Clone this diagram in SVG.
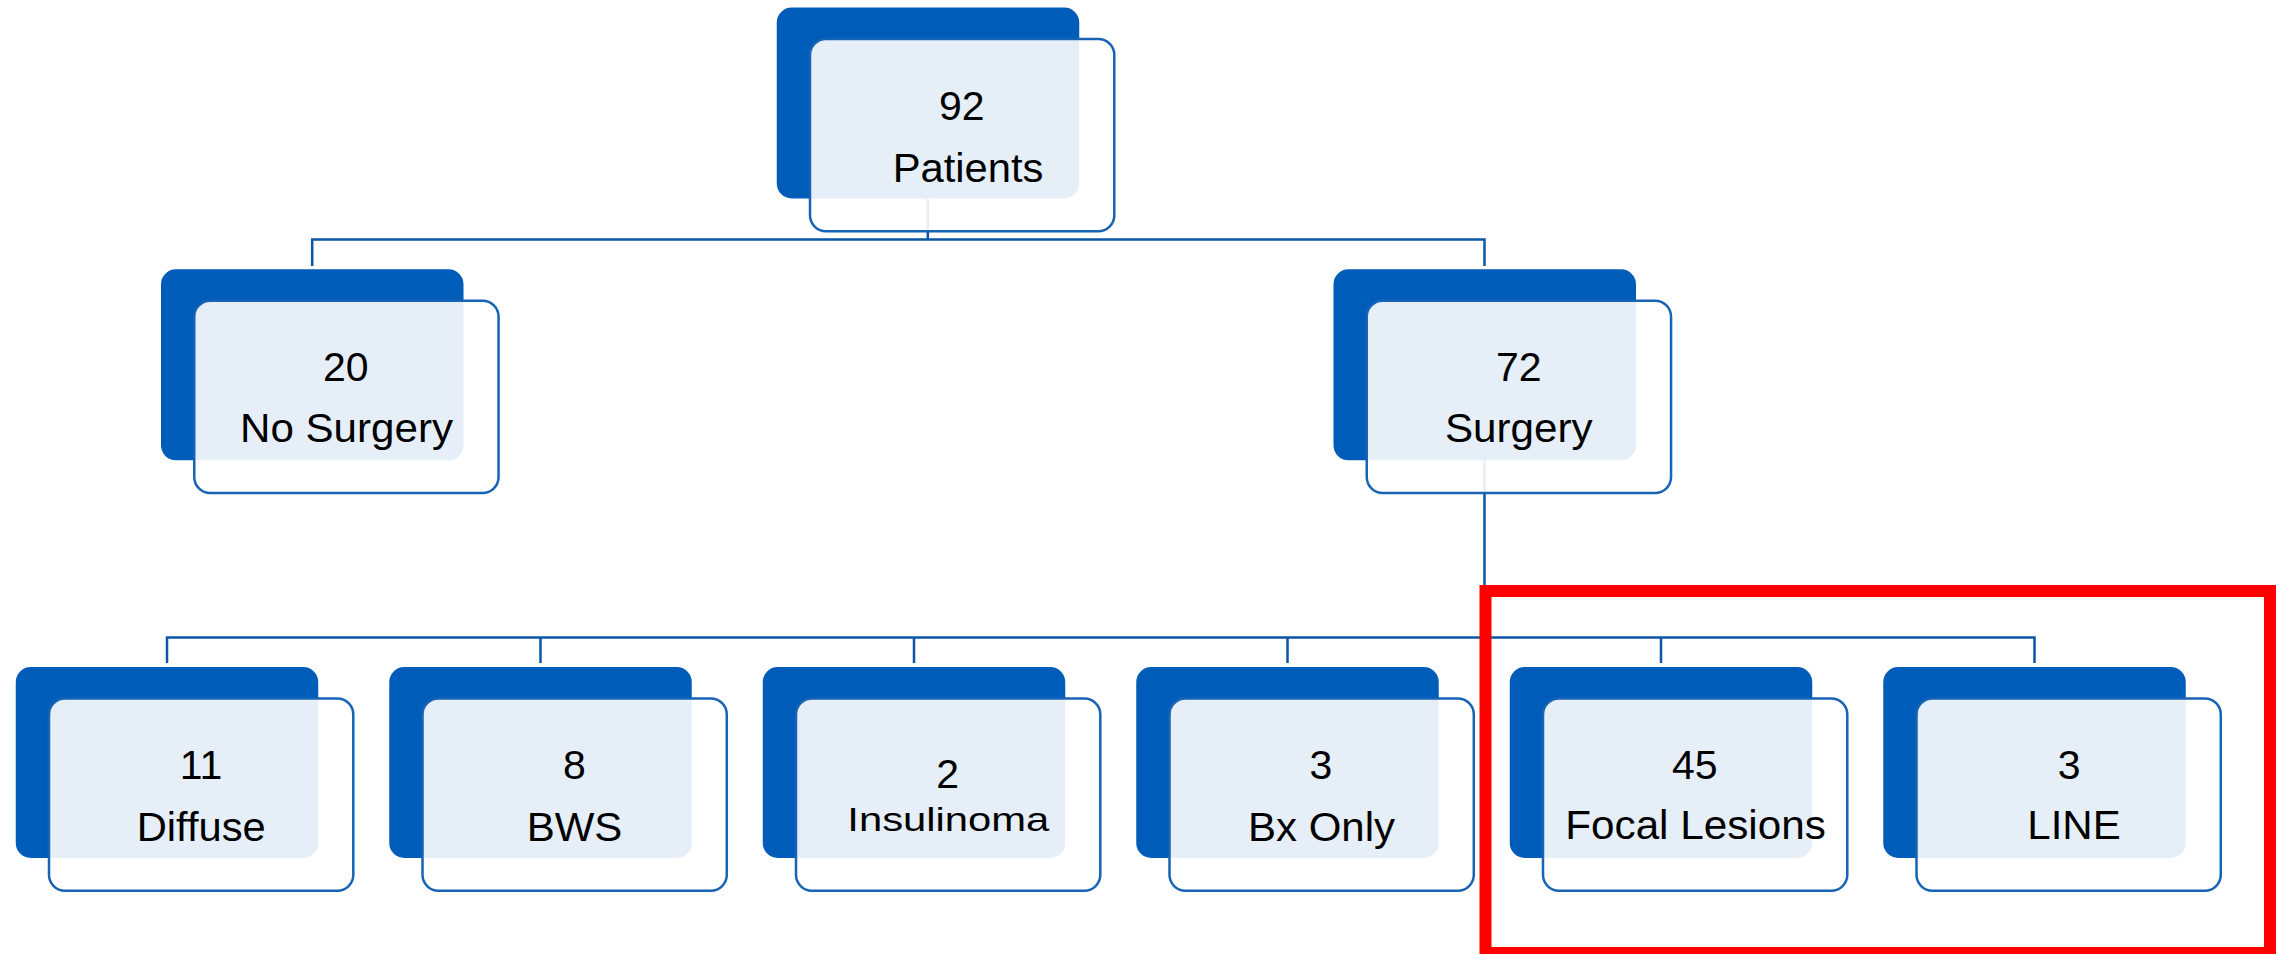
<svg xmlns="http://www.w3.org/2000/svg" width="2285" height="954" viewBox="0 0 2285 954">
<style>
.bg{fill:#005cb9}
.fr{fill:#ffffff;fill-opacity:0.9;stroke:#1763b5;stroke-width:2.5}
.cn{fill:none;stroke:#0b56a6;stroke-width:2.5}
text{font-family:"Liberation Sans",Arial,sans-serif;fill:#000;text-anchor:middle}
.n{font-size:41px}
.l{font-size:40px}
.hl{fill:none;stroke:#ff0000;stroke-width:12}
</style>
<g id="connectors">
<path class="cn" d="M927.8 199 V239.5 M312.2 266 V239.5 H1484.5 V266"/>
<path class="cn" d="M1484.5 460 V637.5 M167 663 V637.5 H2034.5 V663 M540.5 637.5 V663 M914 637.5 V663 M1287.5 637.5 V663 M1661 637.5 V663"/>
</g>
<g id="node-patients">
<rect class="bg" x="776.75" y="7.5" width="302.5" height="191" rx="15"/>
<rect class="fr" x="810" y="39" width="304.3" height="192.2" rx="16"/>
<text class="n" x="961.7" y="120">92</text>
<text class="l" x="968" y="181.7" textLength="150.7" lengthAdjust="spacingAndGlyphs">Patients</text>
</g>
<g id="node-nosurgery">
<rect class="bg" x="161" y="269.3" width="302.5" height="191" rx="15"/>
<rect class="fr" x="194.25" y="300.8" width="304.3" height="192.2" rx="16"/>
<text class="n" x="345.7" y="381">20</text>
<text class="l" x="346.5" y="441.7" textLength="213" lengthAdjust="spacingAndGlyphs">No Surgery</text>
</g>
<g id="node-surgery">
<rect class="bg" x="1333.5" y="269.3" width="302.5" height="191" rx="15"/>
<rect class="fr" x="1366.75" y="300.8" width="304.3" height="192.2" rx="16"/>
<text class="n" x="1518.7" y="381">72</text>
<text class="l" x="1518.8" y="441.7" textLength="147.7" lengthAdjust="spacingAndGlyphs">Surgery</text>
</g>
<g id="node-diffuse">
<rect class="bg" x="15.75" y="667" width="302.5" height="191" rx="15"/>
<rect class="fr" x="49" y="698.5" width="304.3" height="192.2" rx="16"/>
<text class="n" x="201" y="779.3">11</text>
<text class="l" x="201.2" y="840.7" textLength="129" lengthAdjust="spacingAndGlyphs">Diffuse</text>
</g>
<g id="node-bws">
<rect class="bg" x="389.25" y="667" width="302.5" height="191" rx="15"/>
<rect class="fr" x="422.5" y="698.5" width="304.3" height="192.2" rx="16"/>
<text class="n" x="574.5" y="779.3">8</text>
<text class="l" x="574.5" y="840.5" textLength="95.7" lengthAdjust="spacingAndGlyphs">BWS</text>
</g>
<g id="node-insulinoma">
<rect class="bg" x="762.75" y="667" width="302.5" height="191" rx="15"/>
<rect class="fr" x="796" y="698.5" width="304.3" height="192.2" rx="16"/>
<text class="n" x="947.7" y="787.7">2</text>
<text class="l" transform="translate(948.3 831) scale(1 0.82)" x="0" y="0" textLength="202" lengthAdjust="spacingAndGlyphs">Insulinoma</text>
</g>
<g id="node-bxonly">
<rect class="bg" x="1136.25" y="667" width="302.5" height="191" rx="15"/>
<rect class="fr" x="1169.5" y="698.5" width="304.3" height="192.2" rx="16"/>
<text class="n" x="1321" y="779.3">3</text>
<text class="l" x="1321.5" y="840.5" textLength="147" lengthAdjust="spacingAndGlyphs">Bx Only</text>
</g>
<g id="node-focal">
<rect class="bg" x="1509.75" y="667" width="302.5" height="191" rx="15"/>
<rect class="fr" x="1543" y="698.5" width="304.3" height="192.2" rx="16"/>
<text class="n" x="1694.7" y="778.8">45</text>
<text class="l" x="1695.5" y="839" textLength="260.5" lengthAdjust="spacingAndGlyphs">Focal Lesions</text>
</g>
<g id="node-line">
<rect class="bg" x="1883.25" y="667" width="302.5" height="191" rx="15"/>
<rect class="fr" x="1916.5" y="698.5" width="304.3" height="192.2" rx="16"/>
<text class="n" x="2069.2" y="778.8">3</text>
<text class="l" x="2074" y="839" textLength="93.4" lengthAdjust="spacingAndGlyphs">LINE</text>
</g>
<rect id="highlight" class="hl" x="1485.5" y="591" width="784.5" height="362"/>
</svg>
